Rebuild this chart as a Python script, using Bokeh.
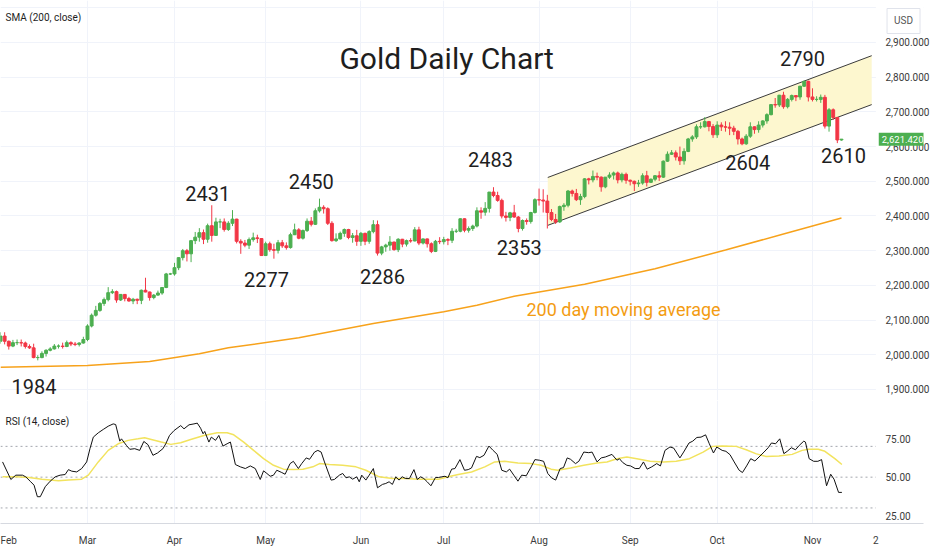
import numpy as np
from bokeh.plotting import figure
from bokeh.models import (Range1d, FixedTicker, Label, Span, ColumnDataSource,
                          NumeralTickFormatter, BoxAnnotation)
from bokeh.layouts import column
from bokeh.core.properties import value
from bokeh.embed import file_html
from bokeh.resources import INLINE

FONT = "Roboto"

# ---------------- data (daily bars, Feb 1 .. Nov 12) ----------------
opens = [2039,2054,2039,2025,2035,2035,2034,2024,2020,1992,1992,2004,2013,2017,2025,2025,2024,2035,2031,2030,2034,
         2044,2083,2114,2128,2148,2159,2179,2182,2158,2174,2162,2155,2160,2157,2186,2181,2165,2172,2178,2194,2233,
         2233,2251,2280,2300,2291,2329,2339,2352,2333,2372,2344,2383,2383,2361,2379,2391,2327,2322,2316,2332,2337,2335,
         2286,2320,2303,2301,2323,2314,2309,2346,2360,2336,2358,2385,2376,2415,2425,2421,2379,2329,2334,2350,2361,2338,2343,
         2327,2350,2327,2355,2375,2293,2311,2316,2325,2303,2333,2319,2329,2328,2360,2322,2334,2320,2298,2327,
         2326,2332,2330,2356,2356,2392,2359,2364,2371,2415,2411,2422,2469,2459,2445,2400,2396,2409,2397,2364,2387,2384,2410,
         2447,2446,2443,2410,2390,2383,2427,2431,2472,2465,2447,2456,2507,2504,2514,2512,2484,2512,2518,2524,2504,2520,
         2503,2500,2493,2495,2516,2497,2506,2516,2512,2558,2578,2582,2570,2559,2586,2622,2628,2657,2657,2672,2658,
         2634,2662,2657,2656,2653,2644,2622,2608,2630,2657,2649,2662,2674,2692,2721,2720,2748,2715,2736,2747,2743,2774,2788,
         2743,2736,2736,2742,2659,2706,2684,2619]
highs = [2065,2065,2041,2043,2044,2044,2038,2030,2032,1999,2010,2016,2022,2031,2030,2035,2041,2039,2037,2036,2052,
         2088,2119,2141,2152,2165,2195,2189,2185,2175,2175,2167,2164,2162,2188,2222,2182,2175,2185,2195,2236,2236,
         2265,2281,2305,2305,2331,2354,2365,2361,2378,2431,2395,2392,2393,2385,2417,2392,2333,2331,2338,2352,2346,2336,
         2326,2326,2320,2331,2331,2324,2352,2378,2365,2361,2393,2397,2422,2450,2431,2425,2385,2350,2355,2364,2363,2351,2360,
         2354,2352,2359,2388,2387,2314,2320,2342,2326,2336,2334,2332,2336,2368,2369,2335,2335,2324,2331,2339,
         2340,2336,2365,2363,2393,2393,2370,2375,2425,2425,2440,2469,2483,2470,2450,2412,2412,2432,2400,2390,2393,2412,2451,
         2479,2477,2461,2420,2406,2430,2437,2475,2476,2478,2464,2509,2510,2531,2525,2514,2512,2526,2528,2528,2525,2525,
         2505,2502,2504,2523,2530,2508,2518,2529,2560,2586,2590,2589,2600,2595,2625,2633,2664,2670,2685,2674,2665,
         2673,2670,2673,2670,2660,2648,2626,2636,2670,2658,2673,2676,2696,2722,2740,2749,2758,2740,2750,2748,2775,2790,2790,
         2768,2745,2750,2749,2711,2710,2685,2622]
lows = [2032,2030,2015,2022,2028,2024,2018,2017,1990,1984,1990,1995,2010,2015,2018,2018,2022,2025,2025,2024,2032,
        2039,2079,2110,2124,2141,2154,2175,2150,2155,2154,2153,2146,2146,2146,2180,2156,2160,2170,2173,2192,2230,
        2228,2244,2272,2269,2267,2319,2326,2319,2323,2326,2343,2365,2355,2357,2371,2321,2291,2310,2305,2326,2322,2285,
        2285,2297,2277,2292,2308,2303,2306,2345,2333,2332,2354,2370,2374,2410,2407,2374,2326,2325,2332,2340,2333,2323,2314,
        2314,2316,2320,2350,2286,2287,2297,2300,2300,2296,2310,2312,2323,2327,2316,2318,2309,2293,2296,2319,
        2318,2316,2322,2351,2353,2353,2352,2357,2367,2392,2401,2410,2454,2441,2393,2384,2385,2395,2353,2358,2375,2378,2407,
        2430,2410,2364,2385,2377,2380,2415,2425,2456,2443,2432,2451,2491,2497,2503,2470,2480,2507,2505,2494,2497,2493,
        2488,2472,2484,2490,2485,2495,2500,2501,2510,2556,2576,2560,2547,2548,2584,2614,2622,2651,2655,2644,2625,
        2625,2645,2643,2633,2633,2606,2604,2605,2625,2637,2640,2655,2666,2690,2712,2714,2709,2710,2730,2731,2735,2772,2730,
        2730,2730,2726,2652,2643,2677,2610,2617]
closes = [2054,2039,2025,2035,2035,2034,2024,2020,1992,1992,2004,2013,2017,2025,2025,2024,2035,2031,2030,2034,2044,
          2083,2114,2128,2148,2159,2179,2182,2158,2174,2162,2155,2160,2157,2186,2181,2165,2172,2178,2194,2233,2233,
          2251,2280,2300,2291,2329,2339,2352,2333,2372,2344,2383,2383,2361,2379,2391,2327,2322,2316,2332,2337,2335,2286,
          2320,2303,2301,2323,2314,2309,2346,2360,2336,2358,2385,2376,2415,2425,2421,2379,2329,2334,2350,2361,2338,2343,2327,
          2350,2327,2355,2375,2293,2311,2316,2325,2303,2333,2319,2329,2328,2360,2322,2334,2320,2298,2327,2326,
          2332,2330,2356,2356,2392,2359,2364,2371,2415,2411,2422,2469,2459,2445,2400,2396,2409,2397,2364,2387,2384,2410,2447,
          2446,2443,2410,2390,2383,2427,2431,2472,2465,2447,2456,2507,2504,2514,2512,2484,2512,2518,2524,2504,2520,2503,
          2500,2493,2495,2516,2497,2506,2516,2512,2558,2578,2582,2570,2559,2586,2622,2628,2657,2657,2672,2658,2634,
          2662,2657,2656,2653,2644,2622,2608,2630,2657,2649,2662,2674,2692,2721,2720,2748,2715,2736,2747,2743,2774,2788,2743,
          2736,2736,2742,2659,2706,2684,2619,2621.42]

# 200-day SMA (bar index, value)
sma_bar = [0, 21, 36, 48, 55, 72, 90, 107, 115, 124, 141, 158, 175, 189, 203]
sma_val = [1964, 1969, 1981, 2003, 2020, 2049, 2090, 2124, 2143, 2169, 2203, 2248, 2302, 2348, 2394]

# RSI(14) (bar position, value)
rsi_bar = [0.5,2.5,3.7,5.3,6.1,7.3,8.1,8.9,9.6,10.8,12.0,13.2,14.4,15.6,16.4,17.2,18.4,19.6,20.8,21.6,22.4,23.6,
           24.8,26.0,27.2,27.8,28.8,29.2,30.4,31.2,32.4,33.6,34.6,35.6,36.8,37.9,39.2,39.9,40.8,41.9,43.5,44.3,45.5,
           46.7,47.5,48.3,48.9,49.3,50.3,50.9,51.9,52.7,53.7,54.7,55.5,56.7,57.9,59.1,60.3,61.5,62.7,63.5,64.3,65.1,
           65.9,66.7,67.9,68.7,69.9,70.7,71.9,72.7,73.8,74.6,75.8,76.6,77.4,78.2,79.8,80.6,81.8,82.6,83.4,84.2,85.0,
           86.0,86.6,87.2,88.2,89.0,90.0,91.0,92.2,93.0,93.8,94.6,95.4,96.2,97.0,97.8,98.7,99.8,100.6,101.4,102.2,
           103.0,103.9,105.0,105.7,
           106.5,107.3,108.0,108.9,109.7,110.9,112.0,112.9,113.7,114.9,115.7,116.7,117.9,118.9,119.9,121.0,122.1,
           122.9,123.9,124.9,125.8,126.9,128.1,129.0,130.1,131.1,132.1,133.0,134.0,135.1,135.9,136.8,137.6,138.8,
           139.6,140.8,142.0,142.8,144.0,145.0,146.0,147.6,148.8,149.4,150.2,151.2,152.1,153.2,154.2,155.2,156.1,
           157.2,158.4,159.3,160.4,161.6,162.5,164.0,164.9,166.2,167.1,168.1,169.1,170.2,171.1,172.1,172.9,174.2,
           175.1,176.1,177.1,178.3,179.1,180.1,181.1,182.1,183.1,184.3,185.3,186.1,187.1,188.1,189.1,189.9,190.9,
           191.9,192.8,193.9,194.3,195.2,196.3,197.3,198.2,199.4,200.4,201.2,202.3,203.1]
rsi_val = [59.9,48.5,51.3,51.3,50.2,47.0,44.8,37.3,37.3,43.8,47.4,50.2,51.3,51.7,54.9,53.9,53.4,55.6,59.9,68.5,76.0,78.8,
           81.0,83.1,84.6,84.2,73.4,74.9,70.6,68.1,68.5,67.4,73.2,71.1,64.2,65.7,68.5,71.7,77.1,80.3,83.5,81.4,84.0,
           84.6,85.1,81.8,78.2,79.7,72.8,76.0,73.9,77.1,70.2,71.7,72.8,58.2,56.7,55.6,57.3,55.6,48.5,54.1,52.4,50.6,
           51.3,54.5,53.0,51.9,58.8,60.3,55.6,58.8,62.5,61.6,66.3,67.4,66.3,59.9,48.1,48.5,51.3,52.4,49.6,50.2,48.7,
           50.2,47.0,51.3,48.1,51.3,55.6,43.1,45.3,45.9,47.0,45.3,50.2,48.1,50.2,49.1,49.1,54.9,48.5,50.2,49.1,
           47.0,44.4,49.8,49.8,
           50.2,50.6,49.6,55.2,55.6,61.4,54.5,54.9,56.0,63.5,62.7,64.2,70.2,67.4,64.8,54.5,53.4,
           55.2,51.3,47.4,51.3,50.9,56.7,61.4,61.0,60.3,52.4,49.6,48.1,55.6,56.2,62.5,61.6,58.8,
           60.3,66.3,65.9,66.3,59.9,62.5,63.1,64.8,61.0,62.0,59.5,57.7,57.3,55.6,55.6,59.9,55.2,
           56.7,58.8,57.3,67.4,69.6,68.9,62.5,66.3,72.2,73.4,75.8,76.0,77.5,71.7,65.7,69.6,67.4,
           66.8,64.6,59.9,54.5,53.0,57.3,62.0,60.5,63.1,66.3,69.1,72.2,71.7,74.9,65.3,66.8,69.1,
           67.8,70.6,73.4,72.8,62.0,60.3,60.3,61.4,44.4,51.9,48.7,40.1,40.1]

# RSI moving average (yellow)
rsima_bar = [0.5,3.7,6.9,10.0,14.0,16.4,19.6,21.2,23.6,26.0,28.4,30.8,33.2,34.8,36.4,38.8,41.1,43.5,45.9,49.1,52.3,
             54.7,56.3,58.7,61.1,63.5,65.9,68.3,70.7,73.0,75.4,77.0,79.4,82.6,85.8,88.2,91.4,94.6,97.8,100.9,105.7,
             108.1,110.5,113.7,116.9,119.3,121.7,124.9,128.1,130.5,132.9,134.5,137.6,140.8,144.0,146.4,148.8,151.2,
             153.6,156.8,160.0,163.1,166.3,169.6,171.9,174.3,177.6,180.0,182.3,184.7,187.9,191.1,193.5,195.1,197.4,
             199.0,201.4,203.1]
rsima_val = [50.2,50.2,49.8,48.7,47.6,48.1,48.7,51.3,59.9,67.4,71.7,73.9,74.9,75.6,74.5,72.8,71.3,72.4,74.5,77.1,78.8,
             78.8,77.5,72.8,67.4,62.0,57.7,55.2,54.9,55.2,56.7,58.8,58.2,57.7,56.7,54.5,50.2,49.1,49.1,48.7,48.7,
             50.2,51.7,53.4,56.7,59.9,60.3,59.2,58.8,57.7,55.2,54.5,56.0,57.7,59.2,59.9,62.0,63.1,
             62.0,60.3,59.9,60.3,62.0,66.3,70.0,70.2,70.0,67.8,65.3,63.5,63.8,64.8,67.4,68.1,68.1,
             66.8,62.0,58.2]

# trend channel drawn on the chart
ch_bar = [132.1, 210.3]
ch_upper = [2511, 2862]
ch_lower = [2373, 2721]

# annotations
ann_text = ["1984", "2431", "2450", "2277", "2286", "2483", "2353", "2604", "2790", "2610"]
ann_bar = [8.1, 50.0, 75.0, 64.2, 92.2, 118.3, 125.2, 180.4, 193.6, 203.5]
ann_price = [1910, 2466, 2498, 2218, 2226, 2564, 2309, 2553, 2855, 2573]

month_ticks = [0, 21, 42, 64, 87, 107, 130, 152, 173, 196, 211.3]
month_labels = ["Feb", "Mar", "Apr", "May", "Jun", "Jul", "Aug", "Sep", "Oct", "Nov", "2"]
price_ticks = [1900, 2000, 2100, 2200, 2300, 2400, 2500, 2600, 2700, 2800, 2900, 3000]
rsi_ticks = [25, 50, 75]
rsi_levels = [70, 50, 30]
last_price = 2621.42
scale_edge = 211.3          # where the price scale starts (bar units)

# ---------------- styling constants ----------------
UP = "#4caf50"
DOWN = "#f23645"
GRID = "#f0f3fa"
AXIS_TXT = "#3b3b3b"
TXT = "#1e1e1e"
W = 932

xr = Range1d(0.0, 222.8)

x = np.arange(len(closes))
o = np.array(opens, float); h = np.array(highs, float)
l = np.array(lows, float); c = np.array(closes, float)
up = c >= o
src_up = ColumnDataSource(dict(x=x[up], h=h[up], l=l[up],
                               top=np.maximum(o, c)[up], bot=np.minimum(o, c)[up]))
src_dn = ColumnDataSource(dict(x=x[~up], h=h[~up], l=l[~up],
                               top=np.maximum(o, c)[~up], bot=np.minimum(o, c)[~up]))


def style_price_axis(ax):
    ax.axis_line_color = None
    ax.major_tick_line_color = None
    ax.minor_tick_line_color = None
    ax.major_label_standoff = -44
    ax.major_label_text_font = FONT
    ax.major_label_text_font_size = "10px"
    ax.major_label_text_color = AXIS_TXT


# ---------------- price panel ----------------
p1 = figure(width=W, frame_height=400, x_range=xr, y_range=Range1d(1868.3, 3021),
            output_backend="svg", toolbar_location=None, y_axis_location="right",
            min_border_left=0, min_border_right=0, min_border_top=0, min_border_bottom=0,
            background_fill_color="white", border_fill_color="white")
p1.outline_line_color = None

p1.yaxis.ticker = FixedTicker(ticks=price_ticks)
p1.yaxis.formatter = NumeralTickFormatter(format="0,0.000")
p1.yaxis.major_label_overrides = {3000: ""}
style_price_axis(p1.yaxis[0])

p1.xaxis.ticker = FixedTicker(ticks=[])
p1.xaxis.major_label_text_font_size = "0px"
p1.xaxis.major_label_standoff = 0
p1.xaxis.major_tick_line_color = None
p1.xaxis.minor_tick_line_color = None
p1.xaxis.axis_line_color = "#d6d9e0"

p1.xgrid.ticker = FixedTicker(ticks=month_ticks[:-1])
p1.ygrid.ticker = FixedTicker(ticks=price_ticks)
p1.xgrid.grid_line_color = GRID
p1.ygrid.grid_line_color = GRID
# keep the price-scale strip clean of grid lines
p1.add_layout(BoxAnnotation(left=scale_edge, fill_color="white", fill_alpha=1.0,
                            line_color=None, level="underlay"))

# channel
p1.varea(x=ch_bar, y1=ch_lower, y2=ch_upper, fill_color="#fdf7cf", fill_alpha=1.0)
p1.line(ch_bar, ch_upper, line_color="#3a3a3a", line_width=1)
p1.line(ch_bar, ch_lower, line_color="#3a3a3a", line_width=1)

# SMA
p1.line(sma_bar, sma_val, line_color="#f7a21b", line_width=1.5)

# candles
for src, col in ((src_up, UP), (src_dn, DOWN)):
    p1.segment(x0="x", y0="h", x1="x", y1="l", source=src, line_color=col, line_width=1)
    p1.vbar(x="x", top="top", bottom="bot", width=0.7, source=src,
            fill_color=col, line_color=col, line_width=1)

# annotations
ann_src = ColumnDataSource(dict(x=ann_bar, y=ann_price, t=ann_text))
p1.text(x="x", y="y", text="t", source=ann_src, text_font=value(FONT),
        text_font_size="20px", text_color=TXT, text_align="center", text_baseline="middle")

p1.add_layout(Label(x=107.7, y=2855, text="Gold Daily Chart", text_font=FONT,
                    text_font_size="30px", text_color=TXT, text_align="center",
                    text_baseline="middle"))
p1.add_layout(Label(x=150.4, y=2130, text="200 day moving average", text_font=FONT,
                    text_font_size="18px", text_color="#f39c12", text_align="center",
                    text_baseline="middle"))
p1.add_layout(Label(x=1.2, y=2972, text="SMA (200, close)", text_font=FONT,
                    text_font_size="10px", text_color=TXT, text_align="left",
                    text_baseline="middle"))
# price scale extras
p1.add_layout(Label(x=214.0, y=2962, text="USD", text_font=FONT, text_font_size="10px",
                    text_color="#555555", text_align="left", text_baseline="middle",
                    border_line_color="#e0e3eb", background_fill_color="white",
                    padding=7))
p1.add_layout(Label(x=212.0, y=last_price, text=f"{last_price:,.3f}", text_font=FONT,
                    text_font_size="9.5px", text_color="white", text_align="left",
                    text_baseline="middle", background_fill_color=UP, padding=3))

# ---------------- RSI panel ----------------
p2 = figure(width=W, frame_height=123, x_range=xr, y_range=Range1d(19.9, 99.8),
            output_backend="svg", toolbar_location=None, y_axis_location="right",
            min_border_left=0, min_border_right=0, min_border_top=0, min_border_bottom=25,
            background_fill_color="white", border_fill_color="white")
p2.outline_line_color = None
p2.yaxis.ticker = FixedTicker(ticks=rsi_ticks)
p2.yaxis.formatter = NumeralTickFormatter(format="0.00")
style_price_axis(p2.yaxis[0])
p2.ygrid.grid_line_color = None

p2.xaxis.ticker = FixedTicker(ticks=month_ticks)
p2.xaxis.major_label_overrides = {t: s for t, s in zip(month_ticks, month_labels)}
p2.xaxis.axis_line_color = "#d6d9e0"
p2.xaxis.major_tick_line_color = None
p2.xaxis.minor_tick_line_color = None
p2.xaxis.major_label_standoff = 5
p2.xaxis.major_label_text_font = FONT
p2.xaxis.major_label_text_font_size = "10px"
p2.xaxis.major_label_text_color = AXIS_TXT
p2.xgrid.ticker = FixedTicker(ticks=month_ticks[:-1])
p2.xgrid.grid_line_color = GRID

for lv in rsi_levels:
    p2.add_layout(Span(location=lv, dimension="width", line_color="#a3a6ad",
                       line_dash="2 3", line_width=1, level="underlay"))
p2.add_layout(BoxAnnotation(left=scale_edge, fill_color="white", fill_alpha=1.0,
                            line_color=None, level="underlay"))

p2.line(rsima_bar, rsima_val, line_color="#f2e35e", line_width=1.5)
p2.line(rsi_bar, rsi_val, line_color="#111111", line_width=1)

p2.add_layout(Label(x=1.2, y=86, text="RSI (14, close)", text_font=FONT,
                    text_font_size="10px", text_color=TXT, text_align="left",
                    text_baseline="middle"))

layout = column(p1, p2, spacing=0)
open("out.html", "w").write(file_html(layout, INLINE))
